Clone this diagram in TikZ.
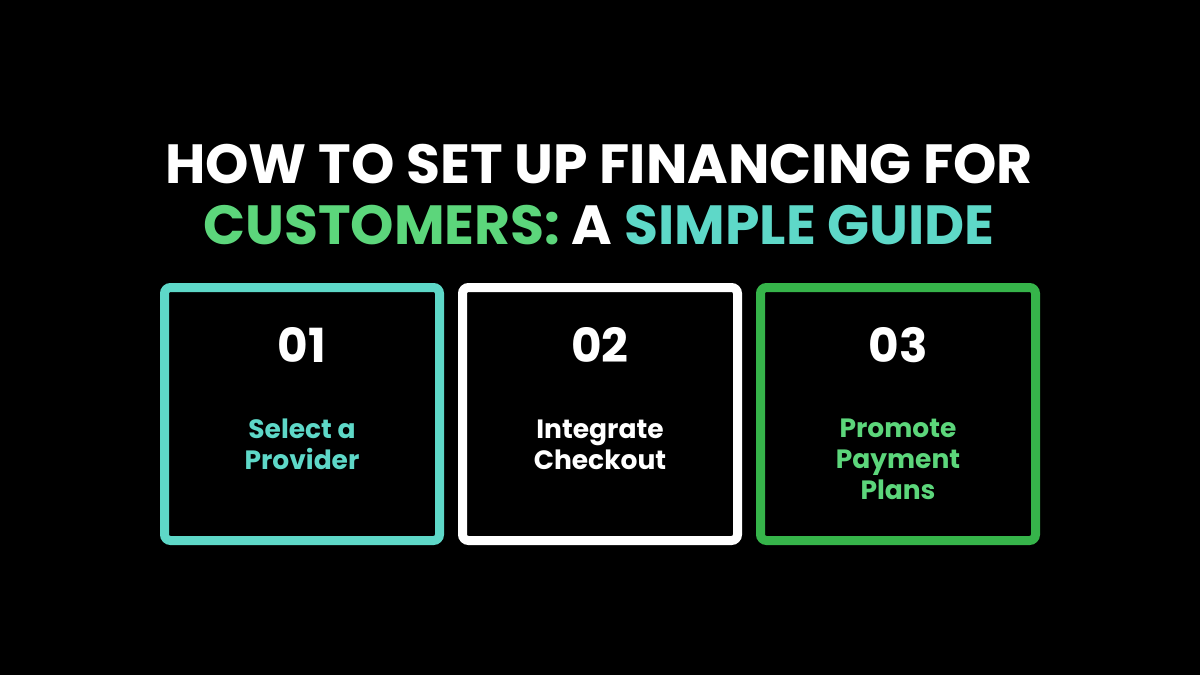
\documentclass[tikz,border=0pt]{standalone}
\usepackage{fontspec}
\setmainfont{Poppins}[BoldFont={* Bold}]
\definecolor{teal1}{HTML}{5ED8C8}
\definecolor{greentxt}{HTML}{5CD67B}
\definecolor{greenbox}{HTML}{36B44A}
\begin{document}
\begin{tikzpicture}[x=1pt,y=-1pt,
  card/.style={draw, line width=9pt, rounded corners=6pt},
  num/.style={anchor=base, text=white, font=\fontsize{47}{47}\selectfont\bfseries, inner sep=0pt},
  lbl/.style={anchor=base, align=center, font=\fontsize{26.5}{31}\selectfont\bfseries, inner sep=0pt},
  ttl/.style={anchor=base, font=\fontsize{55.2}{61}\selectfont\bfseries, inner sep=0pt}]
\fill[black] (0,0) rectangle (1200,675);
\useasboundingbox (0,0) rectangle (1200,675);
\node[ttl, text=white] (t1) at (599,183) {HOW TO SET UP FINANCING FOR};
\node[ttl] (t2) at (599,244) {\textcolor{greentxt}{CUSTOMERS:} \textcolor{white}{A} \textcolor{teal1}{SIMPLE GUIDE}};
\draw[card, teal1] (164.5,287.5) rectangle (439.5,540.5);
\draw[card, white] (462.5,287.5) rectangle (737.5,540.5);
\draw[card, greenbox] (760.5,287.5) rectangle (1035.5,540.5);
\node[num] (n1) at (302,362) {01};
\node[num] (n2) at (600,362) {02};
\node[num] (n3) at (898,362) {03};
\node[lbl, text=teal1] (l1) at (302,469.5) {Select a\\Provider};
\node[lbl, text=white] (l2) at (600,469.5) {Integrate\\Checkout};
\node[lbl, text=greentxt] (l3) at (898,499.5) {Promote\\Payment\\Plans};
\end{tikzpicture}
\end{document}
